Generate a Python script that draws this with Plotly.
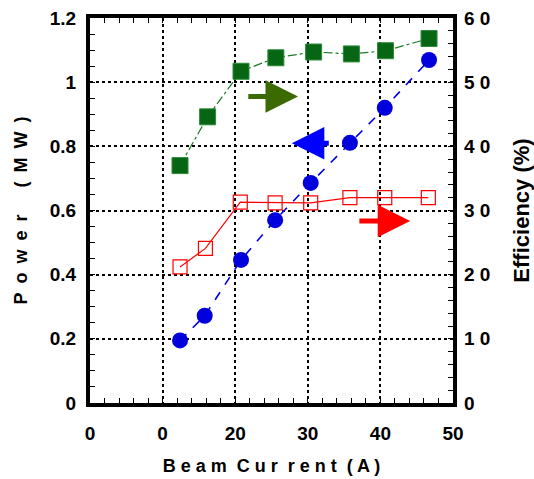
import plotly.graph_objects as go

# Data
beam_current_power = [12.4, 15.8, 20.8, 25.5, 30.4, 35.8, 40.6, 46.7]
power_mw = [0.195, 0.272, 0.446, 0.570, 0.686, 0.811, 0.920, 1.069]

beam_current_eff_green = [12.4, 16.2, 20.8, 25.6, 30.8, 36.0, 40.7, 46.7]
efficiency_green = [37.0, 44.6, 51.7, 53.8, 54.7, 54.4, 54.9, 56.8]

beam_current_eff_red = [12.4, 15.9, 20.7, 25.5, 30.4, 35.8, 40.6, 46.6]
efficiency_red = [21.2, 24.1, 31.3, 31.2, 31.2, 32.0, 32.0, 32.0]

x_tickvals = [0, 10, 20, 30, 40, 50]
x_ticktext = ["0", "0", "20", "30", "40", "50"]
y_tickvals = [0, 0.2, 0.4, 0.6, 0.8, 1.0, 1.2]
y_ticktext = ["0", "0.2", "0.4", "0.6", "0.8", "1", "1.2"]
y2_tickvals = [0, 10, 20, 30, 40, 50, 60]
y2_ticktext = ["0", "1 0", "2 0", "3 0", "4 0", "5 0", "6 0"]

FONT = "Liberation Sans, Arial, sans-serif"
SP = "\u2002"

fig = go.Figure()

fig.add_trace(go.Scatter(
    x=beam_current_eff_red, y=efficiency_red, yaxis="y2",
    mode="lines+markers",
    line=dict(color="#ff0000", width=1.2),
    marker=dict(symbol="square-open", size=14, color="#ff0000", line=dict(width=1.2)),
    showlegend=False,
))
fig.add_trace(go.Scatter(
    x=beam_current_eff_green, y=efficiency_green, yaxis="y2",
    mode="lines+markers",
    line=dict(color="#1f7a2a", width=1.2, dash="dashdot"),
    marker=dict(symbol="square", size=16, color="#066614",
                line=dict(width=1, color="#2e8a3a")),
    showlegend=False,
))
fig.add_trace(go.Scatter(
    x=beam_current_power, y=power_mw,
    mode="lines+markers",
    line=dict(color="#0000e0", width=1.6, dash="dash"),
    marker=dict(symbol="circle", size=16, color="#0000dd"),
    showlegend=False,
))

# Arrows indicating the axis each series belongs to
arrows = [
    dict(x=28.65, y=0.955, ax=21.6, ay=0.955, color="#3b6a00"),
    dict(x=27.8, y=0.81, ax=33.1, ay=0.81, color="#0000ff"),
    dict(x=44.1, y=0.567, ax=36.9, ay=0.567, color="#ff0000"),
]
for a in arrows:
    fig.add_annotation(
        x=a["x"], y=a["y"], ax=a["ax"], ay=a["ay"],
        xref="x", yref="y", axref="x", ayref="y",
        text="", showarrow=True, arrowhead=2, arrowsize=1.3,
        arrowwidth=5, arrowcolor=a["color"], standoff=0,
    )

axis_font = dict(family=FONT, size=19, color="black", weight="bold")
title_font = dict(family=FONT, size=18, color="black", weight="bold")

power_title = SP.join(list("Power")) + SP * 3 + SP.join(["(", "M", "W", ")"])

fig.update_layout(
    width=534, height=479,
    margin=dict(l=90, r=81, t=18, b=76, autoexpand=False),
    paper_bgcolor="white", plot_bgcolor="white",
    font=dict(family=FONT, color="black"),
    xaxis=dict(
        range=[0, 50], tickvals=x_tickvals, ticktext=x_ticktext,
        tickfont=axis_font, ticks="inside", ticklen=0, ticklabelstandoff=10,
        showline=True, linecolor="black", linewidth=4, mirror="allticks",
        showgrid=True, gridcolor="black", gridwidth=1.5, griddash="dot",
        zeroline=False, automargin=False,
        minor=dict(dtick=2, ticks="inside", ticklen=5, tickcolor="black",
                   tickwidth=1, showgrid=False),
        title=dict(text="B e a m  C u r  r e n t  ( A )",
                   font=title_font, standoff=18),
    ),
    yaxis=dict(
        range=[0, 1.2], tickvals=y_tickvals, ticktext=y_ticktext,
        tickfont=axis_font, ticks="inside", ticklen=0, ticklabelstandoff=6,
        showline=True, linecolor="black", linewidth=4, mirror=True,
        showgrid=True, gridcolor="black", gridwidth=1.5, griddash="dot",
        zeroline=False, automargin=False,
        minor=dict(dtick=0.05, ticks="inside", ticklen=5, tickcolor="black",
                   tickwidth=1, showgrid=False),
        title=dict(text=power_title, font=title_font, standoff=18),
    ),
    yaxis2=dict(
        range=[0, 60], overlaying="y", side="right",
        tickvals=y2_tickvals, ticktext=y2_ticktext,
        tickfont=axis_font, ticks="inside", ticklen=0, ticklabelstandoff=10,
        showline=False, showgrid=False, zeroline=False, automargin=False,
        minor=dict(dtick=2, ticks="inside", ticklen=5, tickcolor="black",
                   tickwidth=1, showgrid=False),
        title=dict(text="Efficiency (%)",
                   font=dict(family=FONT, size=22, color="black", weight="bold"),
                   standoff=24),
    ),
)

fig.write_html("out.html", config={"displayModeBar": False},
               post_script="document.body.style.margin='0';")
